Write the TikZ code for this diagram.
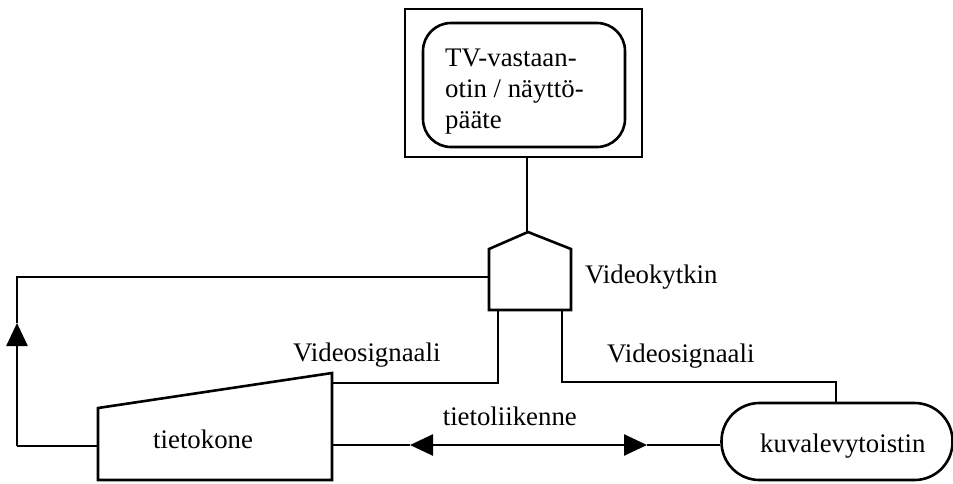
\documentclass[tikz,border=0pt]{standalone}
\usepackage{fontspec}
\setmainfont{Liberation Serif}
\usetikzlibrary{arrows.meta}
\begin{document}
\begin{tikzpicture}[x=1pt,y=-1pt,
  line/.style={line width=2.6pt},
  tip/.style={line width=2.6pt,-{Triangle[length=23pt,width=21pt]}},
  lbl/.style={inner sep=0pt,font=\fontsize{26.8}{31}\selectfont}]
\useasboundingbox (0,0) rectangle (953,483);

% TV receiver / terminal
\draw[line] (405,9) rectangle (642,157);
\draw[line,rounded corners=28pt] (423,23) rectangle (625,147);
\node[lbl,anchor=base west,align=left] (tvtext) at (445,128)
  {TV-vastaan-\\otin / näyttö-\\pääte};
\coordinate (tvbot) at (527,157);

% video switch
\draw[line,line join=miter] (489,310) -- (489,249) -- (528,232) -- (571,249) -- (571,310) -- cycle;
\coordinate (swtop) at (527,232);
\coordinate (swleft) at (489,277);
\coordinate (swbl) at (498,310);
\coordinate (swbr) at (562,310);
\node[lbl,anchor=base west] (swlabel) at (585,283) {Videokytkin};

% computer
\draw[line] (98,480) -- (98,408) -- (332,373) -- (332,480) -- cycle;
\node[lbl,anchor=base west] (tk) at (153,448) {tietokone};
\coordinate (tkleft) at (98,446);
\coordinate (tkright) at (332,445);
\coordinate (tkvid) at (332,383);

% video disc player
\node[line,draw,rounded corners=38pt,minimum width=231pt,minimum height=77pt,inner sep=0pt]
  (kv) at (837,441.5) {};
\node[lbl,anchor=base west] (kvtext) at (760,452) {kuvalevytoistin};

% connectors
\draw[line] (tvbot) -- (swtop);

\coordinate (lc1) at (17,277);
\coordinate (lc2) at (17,446);
\coordinate (uptip) at (17,323);
\draw[line] (swleft) -- (lc1) -- (uptip);
\draw[tip] (lc2) -- (uptip);
\draw[line] (lc2) -- (tkleft);

\coordinate (v1) at (498,383);
\draw[line] (tkvid) -- (v1) -- (swbl);

\coordinate (v2) at (562,382);
\coordinate (v3) at (836,382);
\draw[line] (swbr) -- (v2) -- (v3) -- (kv.north -| v3);

\coordinate (mid) at (527,445);
\coordinate (ltip) at (410,445);
\coordinate (rtip) at (647,445);
\draw[tip] (mid) -- (ltip);
\draw[line] (ltip) -- (tkright);
\draw[tip] (mid) -- (rtip);
\draw[line] (rtip) -- (rtip -| kv.west);

% labels
\node[lbl,anchor=base west] (vs1) at (293,361) {Videosignaali};
\node[lbl,anchor=base west] (vs2) at (607,362) {Videosignaali};
\node[lbl,anchor=base east] (tl) at (577,425) {tietoliikenne};
\end{tikzpicture}
\end{document}
